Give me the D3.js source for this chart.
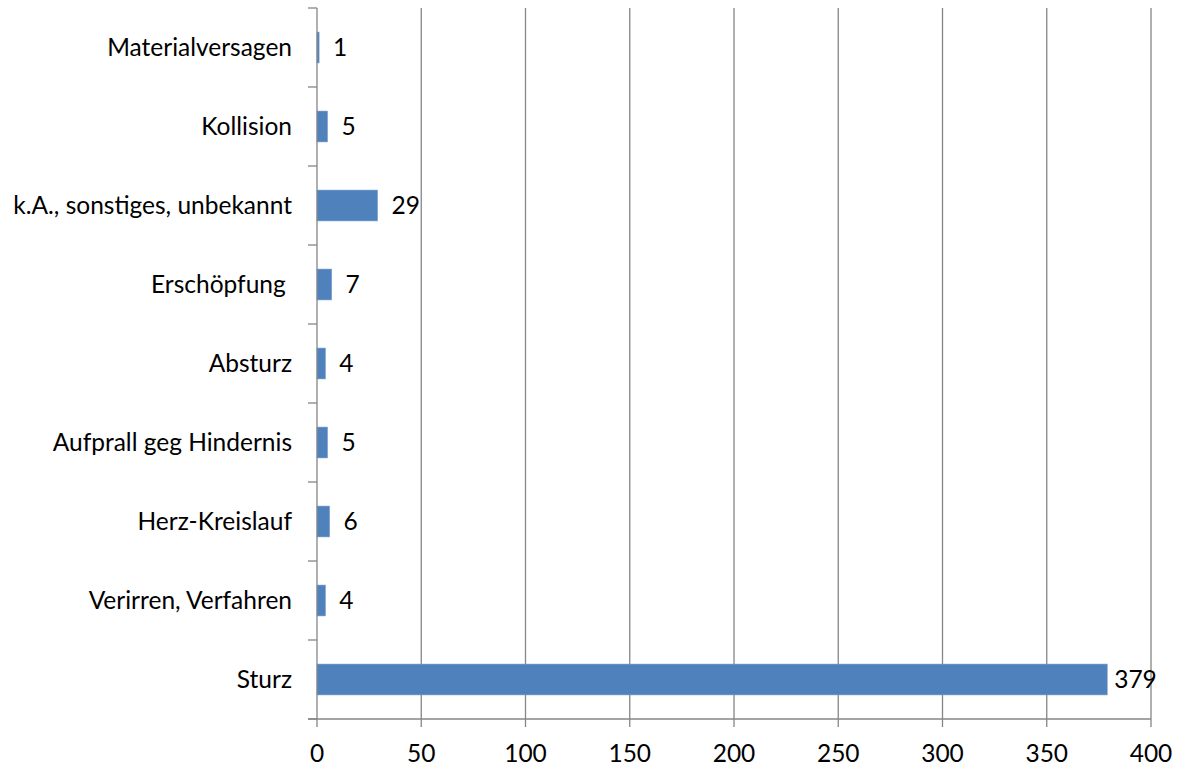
<!DOCTYPE html>
<html>
<head>
<meta charset="utf-8">
<script src="https://cdn.jsdelivr.net/npm/d3@7"></script>
<style>
  body { margin: 0; background: #fff; }
  text { font-family: Lato, "Open Sans", sans-serif; font-size: 24.5px; fill: #000; white-space: pre; }
</style>
</head>
<body>
<div id="chart"></div>
<script>
var categories = ["Materialversagen", "Kollision", "k.A., sonstiges, unbekannt", "Erschöpfung ", "Absturz",
                  "Aufprall geg Hindernis", "Herz-Kreislauf", "Verirren, Verfahren", "Sturz"];
var values = [1, 5, 29, 7, 4, 5, 6, 4, 379];
var xTicks = [0, 50, 100, 150, 200, 250, 300, 350, 400];

var width = 1179, height = 767;
var margin = {top: 8, right: 28, bottom: 48, left: 317};
var innerW = width - margin.left - margin.right,
    innerH = height - margin.top - margin.bottom;

var svg = d3.select("#chart").append("svg").attr("width", width).attr("height", height);
var g = svg.append("g").attr("transform", "translate(" + margin.left + "," + margin.top + ")");

var x = d3.scaleLinear().domain([0, 400]).range([0, innerW]);
var y = d3.scaleBand().domain(categories).range([0, innerH]).paddingInner(0.61).paddingOuter(0.305);

var grid = "#868686";

// vertical gridlines, running a little below the baseline as ticks
g.selectAll(".grid").data(xTicks.slice(1)).enter().append("line")
  .attr("x1", function(d) { return x(d); }).attr("x2", function(d) { return x(d); })
  .attr("y1", 0).attr("y2", innerH + 8)
  .attr("stroke", grid).attr("stroke-width", 1.3);

// bars
g.selectAll(".bar").data(values).enter().append("rect")
  .attr("x", x(0))
  .attr("y", function(d, i) { return y(categories[i]); })
  .attr("width", function(d) { return x(d) - x(0); })
  .attr("height", y.bandwidth())
  .attr("fill", "#4F81BD")
  .attr("stroke", "#6f97c9").attr("stroke-width", 0.6);

// value labels
g.selectAll(".val").data(values).enter().append("text")
  .attr("x", function(d) { return x(d) + (d > 100 ? 7 : 14); })
  .attr("y", function(d, i) { return y(categories[i]) + y.bandwidth() / 2; })
  .attr("dy", "0.35em")
  .text(function(d) { return d; });

// y axis
var step = innerH / categories.length;
var yBounds = d3.range(categories.length + 1).map(function(i) { return i * step; });
g.append("line").attr("x1", 0).attr("x2", 0).attr("y1", 0).attr("y2", innerH + 8)
  .attr("stroke", grid).attr("stroke-width", 1.3);
g.selectAll(".ytick").data(yBounds).enter().append("line")
  .attr("x1", -9).attr("x2", 0)
  .attr("y1", function(d) { return d; }).attr("y2", function(d) { return d; })
  .attr("stroke", grid).attr("stroke-width", 1.3);

// x axis baseline
g.append("line").attr("x1", -9).attr("x2", innerW).attr("y1", innerH).attr("y2", innerH)
  .attr("stroke", grid).attr("stroke-width", 1.3);

// category labels
g.selectAll(".cat").data(categories).enter().append("text")
  .attr("x", -25)
  .attr("y", function(d) { return y(d) + y.bandwidth() / 2; })
  .attr("dy", "0.35em")
  .attr("text-anchor", "end")
  .text(function(d) { return d; });

// x tick labels
g.selectAll(".xlab").data(xTicks).enter().append("text")
  .attr("x", function(d) { return x(d); })
  .attr("y", innerH + 34)
  .attr("dy", "0.35em")
  .attr("text-anchor", "middle")
  .text(function(d) { return d; });
</script>
</body>
</html>
